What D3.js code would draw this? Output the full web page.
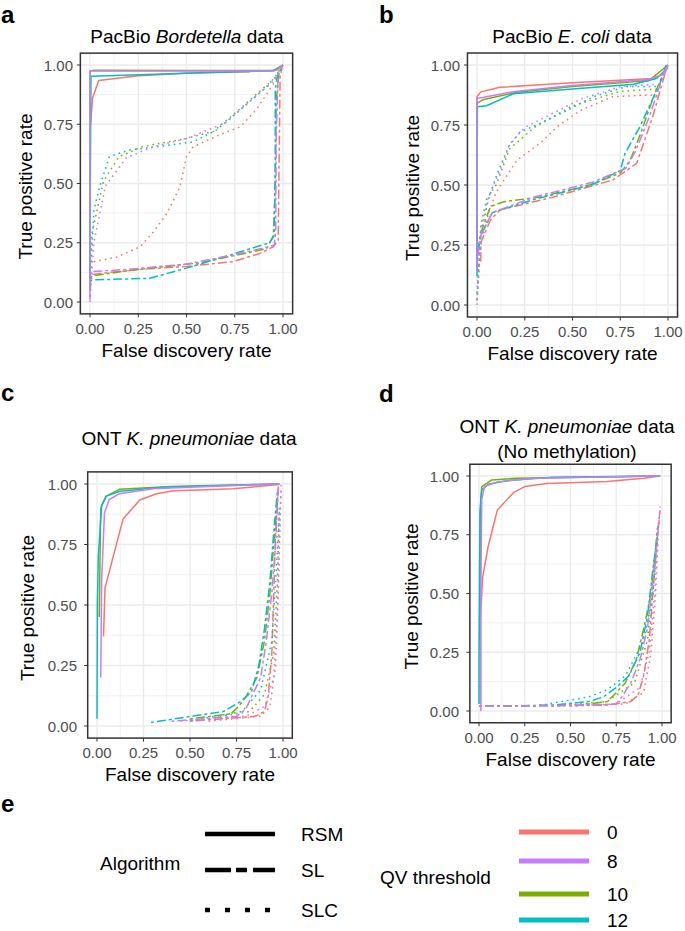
<!DOCTYPE html>
<html><head><meta charset="utf-8">
<script src="https://cdn.jsdelivr.net/npm/d3@7"></script>
<style>body{margin:0;background:#fff} svg{display:block;font-family:"Liberation Sans",Arial,Helvetica,sans-serif}</style>
</head><body>
<svg id="chart" width="685" height="931"></svg>
<script>
// ---------------- DATA ----------------
const qvLevels = ["0", "8", "10", "12"];
const qvColors = ["#F8766D", "#C77CFF", "#7CAE00", "#00BFC4"];
const algorithms = ["RSM", "SL", "SLC"];
const tickValues = [0, 0.25, 0.5, 0.75, 1];
const tickLabels = ["0.00", "0.25", "0.50", "0.75", "1.00"];
const minorValues = [0.125, 0.375, 0.625, 0.875];
const xTitle = "False discovery rate";
const yTitle = "True positive rate";

// Panel a: PacBio Bordetella  ([FDR, TPR])
const a_RSM_0  = [[0.0,0.72],[0.013,0.86],[0.045,0.935],[0.25,0.955],[0.5,0.965],[0.83,0.972]];
const a_RSM_8  = [[0.0,0.01],[0.0,0.975],[0.3,0.975],[0.6,0.975],[0.95,0.975],[0.97,0.98],[1.0,1.0]];
const a_RSM_10 = [[0.0,0.1],[0.0,0.975],[0.02,0.978],[0.5,0.977],[0.95,0.977],[1.0,1.0]];
const a_RSM_12 = [[0.0,0.05],[0.0,0.31],[0.005,0.953],[0.3,0.96],[0.6,0.968],[0.93,0.975],[0.97,0.98],[1.0,1.0]];
const a_SL_0   = [[0.0,0.02],[0.005,0.115],[0.1,0.125],[0.3,0.14],[0.5,0.15],[0.74,0.17],[0.88,0.205],[0.95,0.233],[0.975,0.26],[0.98,0.6],[0.985,0.95],[0.995,0.99]];
const a_SL_8   = [[0.0,0.11],[0.01,0.128],[0.2,0.138],[0.5,0.16],[0.75,0.2],[0.9,0.228],[0.955,0.24],[0.962,0.3],[0.965,0.7],[0.975,0.97],[1.0,1.0]];
const a_SL_10  = [[0.0,0.1],[0.01,0.11],[0.22,0.135],[0.57,0.165],[0.8,0.205],[0.915,0.225],[0.95,0.28],[0.96,0.5],[0.965,0.85],[0.98,0.97],[1.0,1.0]];
const a_SL_12  = [[0.0,0.085],[0.01,0.093],[0.31,0.1],[0.5,0.143],[0.78,0.212],[0.93,0.25],[0.955,0.28],[0.96,0.6],[0.96,0.9],[0.97,0.95],[1.0,1.0]];
const a_SLC_0  = [[0.02,0.17],[0.14,0.19],[0.26,0.233],[0.33,0.297],[0.4,0.375],[0.466,0.486],[0.5,0.613],[0.535,0.655],[0.656,0.7],[0.78,0.74],[0.86,0.81],[0.95,0.92],[1.0,1.0]];
const a_SLC_8  = [[0.0,0.0],[0.02,0.25],[0.04,0.33],[0.08,0.49],[0.19,0.61],[0.33,0.655],[0.5,0.69],[0.7,0.755],[0.84,0.855],[0.95,0.93],[1.0,1.0]];
const a_SLC_10 = [[0.0,0.15],[0.01,0.29],[0.07,0.51],[0.15,0.613],[0.27,0.655],[0.5,0.69],[0.64,0.72],[0.77,0.81],[0.95,0.94],[1.0,1.0]];
const a_SLC_12 = [[0.0,0.05],[0.02,0.388],[0.05,0.486],[0.1,0.613],[0.2,0.641],[0.345,0.655],[0.535,0.676],[0.656,0.726],[0.777,0.81],[0.915,0.908],[0.96,0.95],[1.0,1.0]];

// Panel b: PacBio E. coli
const b_RSM_0  = [[0.0,0.15],[0.0,0.868],[0.02,0.888],[0.12,0.907],[0.5,0.926],[0.92,0.944],[0.97,0.96],[1.0,1.0]];
const b_RSM_8  = [[0.0,0.146],[0.0,0.86],[0.03,0.865],[0.2,0.89],[0.5,0.915],[0.9,0.94],[0.97,0.96],[1.0,1.0]];
const b_RSM_10 = [[0.0,0.2],[0.0,0.84],[0.03,0.855],[0.2,0.885],[0.5,0.91],[0.9,0.935],[1.0,1.0]];
const b_RSM_12 = [[0.0,0.12],[0.0,0.36],[0.002,0.826],[0.05,0.83],[0.19,0.88],[0.5,0.9],[0.82,0.92],[0.94,0.944],[1.0,0.99]];
const b_SL_0   = [[0.005,0.16],[0.02,0.175],[0.02,0.26],[0.07,0.354],[0.12,0.396],[0.4,0.45],[0.68,0.514],[0.71,0.52],[0.836,0.59],[0.92,0.785],[0.99,0.98]];
const b_SL_8   = [[0.0,0.18],[0.02,0.29],[0.08,0.385],[0.3,0.45],[0.6,0.51],[0.78,0.57],[0.83,0.64],[0.9,0.78],[0.96,0.92],[1.0,1.0]];
const b_SL_10  = [[0.0,0.2],[0.02,0.3],[0.07,0.41],[0.14,0.43],[0.33,0.45],[0.59,0.5],[0.75,0.55],[0.8,0.6],[0.85,0.7],[0.93,0.88],[0.99,0.99]];
const b_SL_12  = [[0.0,0.2],[0.02,0.29],[0.08,0.385],[0.3,0.44],[0.6,0.5],[0.75,0.56],[0.775,0.632],[0.853,0.743],[0.958,0.924],[0.99,1.0]];
const b_SLC_0  = [[0.0,0.02],[0.02,0.25],[0.06,0.38],[0.1,0.47],[0.21,0.604],[0.33,0.674],[0.42,0.743],[0.54,0.81],[0.71,0.868],[0.9,0.875],[0.96,0.87]];
const b_SLC_8  = [[0.0,0.0],[0.02,0.32],[0.06,0.45],[0.12,0.56],[0.17,0.67],[0.25,0.74],[0.4,0.8],[0.55,0.86],[0.75,0.91],[0.95,0.92]];
const b_SLC_10 = [[0.0,0.02],[0.02,0.33],[0.05,0.44],[0.1,0.5],[0.17,0.65],[0.3,0.74],[0.5,0.83],[0.75,0.89],[0.95,0.9]];
const b_SLC_12 = [[0.0,0.05],[0.02,0.3],[0.06,0.44],[0.1,0.535],[0.165,0.66],[0.225,0.72],[0.33,0.757],[0.47,0.81],[0.61,0.868],[0.78,0.91],[0.94,0.91]];

// Panel c: ONT K. pneumoniae
const c_RSM_0  = [[0.035,0.37],[0.043,0.57],[0.087,0.7],[0.14,0.855],[0.23,0.934],[0.32,0.96],[0.41,0.972],[0.55,0.975],[0.73,0.98],[0.98,0.998]];
const c_RSM_8  = [[0.02,0.2],[0.025,0.6],[0.04,0.88],[0.065,0.935],[0.12,0.96],[0.3,0.98],[0.6,0.99],[0.98,1.0]];
const c_RSM_10 = [[0.012,0.45],[0.02,0.9],[0.05,0.95],[0.12,0.978],[0.4,0.99],[0.98,1.0]];
const c_RSM_12 = [[0.0,0.03],[0.002,0.5],[0.007,0.7],[0.025,0.913],[0.05,0.95],[0.124,0.97],[0.37,0.988],[0.73,0.995],[0.98,1.0]];
const c_SL_0   = [[0.5,0.02],[0.85,0.04],[0.9,0.06],[0.92,0.12],[0.94,0.3],[0.95,0.55],[0.96,0.8],[0.975,0.99]];
const c_SL_8   = [[0.4,0.02],[0.75,0.04],[0.8,0.07],[0.83,0.12],[0.88,0.2],[0.91,0.35],[0.94,0.55],[0.96,0.75],[0.975,0.98]];
const c_SL_10  = [[0.5,0.03],[0.72,0.05],[0.76,0.08],[0.8,0.12],[0.86,0.2],[0.9,0.35],[0.93,0.55],[0.95,0.75],[0.97,0.95]];
const c_SL_12  = [[0.29,0.015],[0.55,0.045],[0.68,0.06],[0.77,0.1],[0.83,0.14],[0.87,0.25],[0.9,0.4],[0.93,0.6],[0.95,0.8],[0.97,0.97]];
const c_SLC_0  = [[0.6,0.02],[0.88,0.04],[0.93,0.08],[0.96,0.25],[0.975,0.55],[0.985,0.85],[0.99,0.98]];
const c_SLC_8  = [[0.45,0.02],[0.8,0.04],[0.9,0.08],[0.95,0.2],[0.97,0.5],[0.985,0.9],[0.99,1.0]];
const c_SLC_10 = [[0.6,0.03],[0.82,0.06],[0.9,0.13],[0.95,0.3],[0.97,0.6],[0.98,0.9]];
const c_SLC_12 = [[0.5,0.02],[0.78,0.06],[0.88,0.15],[0.94,0.35],[0.965,0.65],[0.98,0.9]];

// Panel d: ONT K. pneumoniae (No methylation)
const d_RSM_0  = [[0.008,0.03],[0.008,0.39],[0.02,0.57],[0.05,0.7],[0.1,0.855],[0.19,0.93],[0.25,0.955],[0.37,0.968],[0.7,0.977],[0.9,0.99],[0.99,1.0]];
const d_RSM_8  = [[0.01,0.0],[0.01,0.5],[0.015,0.9],[0.03,0.955],[0.1,0.975],[0.3,0.99],[0.99,1.0]];
const d_RSM_10 = [[0.005,0.3],[0.01,0.9],[0.015,0.955],[0.07,0.983],[0.2,0.99],[0.99,1.0]];
const d_RSM_12 = [[0.0,0.03],[0.0,0.2],[0.005,0.85],[0.015,0.94],[0.05,0.965],[0.15,0.98],[0.4,0.995],[0.99,1.0]];
const d_SL_0   = [[0.0,0.02],[0.7,0.025],[0.83,0.04],[0.87,0.07],[0.9,0.15],[0.93,0.3],[0.95,0.5],[0.97,0.7],[0.985,0.82]];
const d_SL_8   = [[0.0,0.02],[0.6,0.025],[0.75,0.03],[0.78,0.06],[0.83,0.12],[0.88,0.22],[0.92,0.35],[0.95,0.55],[0.97,0.7],[0.99,0.86]];
const d_SL_10  = [[0.0,0.02],[0.55,0.025],[0.7,0.04],[0.74,0.07],[0.8,0.12],[0.86,0.22],[0.9,0.35],[0.94,0.5],[0.96,0.65],[0.975,0.78]];
const d_SL_12  = [[0.0,0.02],[0.4,0.025],[0.6,0.04],[0.68,0.06],[0.75,0.1],[0.82,0.15],[0.88,0.25],[0.92,0.4],[0.95,0.6],[0.97,0.72]];
const d_SLC_0  = [[0.5,0.02],[0.8,0.03],[0.9,0.08],[0.94,0.25],[0.965,0.5],[0.98,0.75]];
const d_SLC_8  = [[0.4,0.02],[0.75,0.03],[0.88,0.1],[0.93,0.25],[0.96,0.5],[0.98,0.8],[0.99,0.87]];
const d_SLC_10 = [[0.4,0.02],[0.7,0.04],[0.85,0.12],[0.92,0.3],[0.955,0.55],[0.975,0.75]];
const d_SLC_12 = [[0.3,0.02],[0.6,0.06],[0.7,0.09],[0.8,0.15],[0.9,0.3],[0.95,0.5],[0.97,0.7],[0.98,0.8]];

const panelSeries = {
  a: {RSM:[a_RSM_0,a_RSM_8,a_RSM_10,a_RSM_12], SL:[a_SL_0,a_SL_8,a_SL_10,a_SL_12], SLC:[a_SLC_0,a_SLC_8,a_SLC_10,a_SLC_12]},
  b: {RSM:[b_RSM_0,b_RSM_8,b_RSM_10,b_RSM_12], SL:[b_SL_0,b_SL_8,b_SL_10,b_SL_12], SLC:[b_SLC_0,b_SLC_8,b_SLC_10,b_SLC_12]},
  c: {RSM:[c_RSM_0,c_RSM_8,c_RSM_10,c_RSM_12], SL:[c_SL_0,c_SL_8,c_SL_10,c_SL_12], SLC:[c_SLC_0,c_SLC_8,c_SLC_10,c_SLC_12]},
  d: {RSM:[d_RSM_0,d_RSM_8,d_RSM_10,d_RSM_12], SL:[d_SL_0,d_SL_8,d_SL_10,d_SL_12], SLC:[d_SLC_0,d_SLC_8,d_SLC_10,d_SLC_12]}
};

// ---------------- LAYOUT ----------------
const panels = [
  {id:"a", lx:0,   ly:23,  x0:90,  x1:283, y0:302, y1:65,  labEnd:73,  yTitleX:25,  title:[["PacBio ",false],["Bordetella",true],[" data",false]], titleY:[43], titleX:187},
  {id:"b", lx:378, ly:23,  x0:477, x1:668, y0:305, y1:65,  labEnd:460, yTitleX:412, title:[["PacBio ",false],["E. coli",true],[" data",false]], titleY:[43], titleX:572},
  {id:"c", lx:0,   ly:401, x0:97,  x1:283, y0:726, y1:484, labEnd:77,  yTitleX:27,  title:[["ONT ",false],["K. pneumoniae",true],[" data",false]], titleY:[445], titleX:189},
  {id:"d", lx:378, ly:402, x0:479, x1:662, y0:711, y1:476, labEnd:459, yTitleX:411, title:[["ONT ",false],["K. pneumoniae",true],[" data",false]], title2:"(No methylation)", titleY:[433,458], titleX:567}
];
const dashFor = {RSM:null, SL:"3,3,9,3", SLC:"1.6,4"};
const drawOrder = [0, 2, 3, 1];

const svg = d3.select("#chart");

panels.forEach(p => {
  const x = d3.scaleLinear().domain([0,1]).range([p.x0,p.x1]);
  const y = d3.scaleLinear().domain([0,1]).range([p.y0,p.y1]);
  const L = x(-0.05), R = x(1.05), T = y(1.05), B = y(-0.05);
  const g = svg.append("g");

  svg.append("text").attr("x",p.lx+1).attr("y",p.ly).attr("font-size",24).attr("font-weight","bold").text(p.id);

  p.titleY.forEach((ty,i) => {
    const t = svg.append("text").attr("x",p.titleX).attr("y",ty).attr("text-anchor","middle").attr("font-size",19).attr("fill","#000");
    if (i===0) p.title.forEach(([s,it]) => t.append("tspan").attr("font-style", it?"italic":"normal").text(s));
    else t.text(p.title2);
  });

  g.selectAll(".minx").data(minorValues).join("line").attr("x1",d=>x(d)).attr("x2",d=>x(d)).attr("y1",T).attr("y2",B).attr("stroke","#EBEBEB").attr("stroke-width",0.7);
  g.selectAll(".miny").data(minorValues).join("line").attr("x1",L).attr("x2",R).attr("y1",d=>y(d)).attr("y2",d=>y(d)).attr("stroke","#EBEBEB").attr("stroke-width",0.7);
  g.selectAll(".majx").data(tickValues).join("line").attr("x1",d=>x(d)).attr("x2",d=>x(d)).attr("y1",T).attr("y2",B).attr("stroke","#EBEBEB").attr("stroke-width",1.4);
  g.selectAll(".majy").data(tickValues).join("line").attr("x1",L).attr("x2",R).attr("y1",d=>y(d)).attr("y2",d=>y(d)).attr("stroke","#EBEBEB").attr("stroke-width",1.4);

  const clipId = "clip"+p.id;
  svg.append("clipPath").attr("id",clipId).append("rect").attr("x",L).attr("y",T).attr("width",R-L).attr("height",B-T);
  const lg = g.append("g").attr("clip-path",`url(#${clipId})`);
  const line = d3.line().x(d=>x(d[0])).y(d=>y(d[1]));
  drawOrder.forEach(qi => {
    algorithms.forEach(alg => {
      lg.append("path").attr("d", line(panelSeries[p.id][alg][qi]))
        .attr("fill","none").attr("stroke",qvColors[qi]).attr("stroke-width",1.5)
        .attr("stroke-dasharray", dashFor[alg]).attr("stroke-linejoin","round");
    });
  });

  g.append("rect").attr("x",L).attr("y",T).attr("width",R-L).attr("height",B-T).attr("fill","none").attr("stroke","#333333").attr("stroke-width",1.5);

  g.selectAll(".tx").data(tickValues).join("line").attr("x1",d=>x(d)).attr("x2",d=>x(d)).attr("y1",B).attr("y2",B+3.5).attr("stroke","#333333").attr("stroke-width",1);
  g.selectAll(".ty").data(tickValues).join("line").attr("x1",L-3.5).attr("x2",L).attr("y1",d=>y(d)).attr("y2",d=>y(d)).attr("stroke","#333333").attr("stroke-width",1);
  g.selectAll(".lx").data(tickValues).join("text").attr("x",d=>x(d)).attr("y",B+20).attr("text-anchor","middle").attr("font-size",15).attr("fill","#4D4D4D").text((d,i)=>tickLabels[i]);
  g.selectAll(".ly").data(tickValues).join("text").attr("x",p.labEnd).attr("y",d=>y(d)+5.5).attr("text-anchor","end").attr("font-size",15).attr("fill","#4D4D4D").text((d,i)=>tickLabels[i]);

  g.append("text").attr("x",(L+R)/2).attr("y",B+43).attr("text-anchor","middle").attr("font-size",19).text(xTitle);
  g.append("text").attr("transform",`translate(${p.yTitleX+7},${(T+B)/2+3}) rotate(-90)`).attr("text-anchor","middle").attr("font-size",19).text(yTitle);
});

// ---------------- LEGEND ----------------
svg.append("text").attr("x",1).attr("y",812).attr("font-size",24).attr("font-weight","bold").text("e");
svg.append("text").attr("x",100).attr("y",870).attr("font-size",19).text("Algorithm");
const algKeyY = [834, 870, 910];
const algKeyDash = [null, "26,5,11,6", "5,15"];
algorithms.forEach((a,i) => {
  svg.append("line").attr("x1",205).attr("x2",275).attr("y1",algKeyY[i]).attr("y2",algKeyY[i])
    .attr("stroke","#000").attr("stroke-width",4.5).attr("stroke-dasharray",algKeyDash[i]);
  svg.append("text").attr("x",301).attr("y",algKeyY[i]+7).attr("font-size",19).text(a);
});
svg.append("text").attr("x",380).attr("y",884).attr("font-size",19).text("QV threshold");
const qvKeyY = [832, 861, 894, 920];
qvLevels.forEach((q,i) => {
  svg.append("line").attr("x1",519).attr("x2",589).attr("y1",qvKeyY[i]).attr("y2",qvKeyY[i])
    .attr("stroke",qvColors[i]).attr("stroke-width",5);
  svg.append("text").attr("x",607).attr("y",qvKeyY[i]+7).attr("font-size",19).text(q);
});
</script>
</body></html>
